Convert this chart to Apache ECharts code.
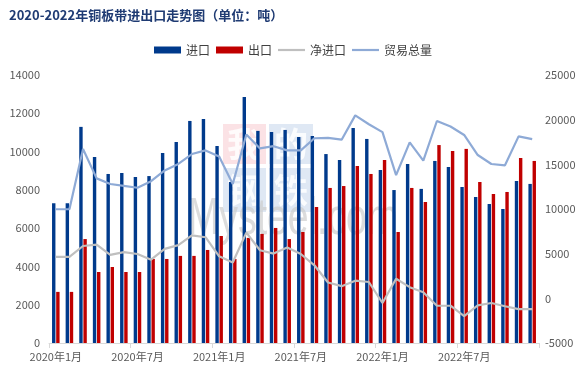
<!DOCTYPE html>
<html>
<head>
<meta charset="utf-8">
<script src="https://cdn.jsdelivr.net/npm/echarts@6/dist/echarts.min.js"></script>
<style>
html, body { margin: 0; padding: 0; background: #fff; }
#main { width: 586px; height: 376px; }
</style>
</head>
<body>
<div id="main"></div>
<script>
var months = [
    '2020年1月', '2020年2月', '2020年3月', '2020年4月', '2020年5月', '2020年6月',
    '2020年7月', '2020年8月', '2020年9月', '2020年10月', '2020年11月', '2020年12月',
    '2021年1月', '2021年2月', '2021年3月', '2021年4月', '2021年5月', '2021年6月',
    '2021年7月', '2021年8月', '2021年9月', '2021年10月', '2021年11月', '2021年12月',
    '2022年1月', '2022年2月', '2022年3月', '2022年4月', '2022年5月', '2022年6月',
    '2022年7月', '2022年8月', '2022年9月', '2022年10月', '2022年11月', '2022年12月'
];

// 进口
var importData = [
    7300, 7300, 11290, 9720, 8830, 8880, 8670, 8720, 9930, 10500, 11600, 11700,
    10290, 8410, 12850, 11080, 11020, 11130, 10760, 10810, 9870, 9560, 11230, 10660,
    9040, 7990, 9350, 8050, 9510, 9200, 8150, 7630, 7260, 7000, 8460, 8310
];
// 出口
var exportData = [
    2670, 2670, 5430, 3710, 3970, 3710, 3710, 4390, 4390, 4550, 4550, 4860,
    5590, 4390, 5490, 5700, 6010, 5430, 5800, 7110, 8100, 8200, 9250, 8830,
    9560, 5800, 8100, 7370, 10340, 10030, 10140, 8410, 7780, 7890, 9670, 9510
];
// 净进口
var netData = [
    4630, 4630, 5860, 6010, 4860, 5170, 4960, 4330, 5540, 5950, 7050, 6840,
    4700, 4020, 7360, 5380, 5010, 5700, 4960, 3700, 1770, 1360, 1980, 1830,
    -520, 2190, 1250, 680, -830, -830, -1990, -780, -520, -890, -1210, -1200
];
// 贸易总量
var totalData = [
    9970, 9970, 16720, 13430, 12800, 12590, 12380, 13110, 14320, 15050, 16150, 16560,
    15880, 12800, 18340, 16780, 17030, 16560, 16560, 17920, 17970, 17760, 20480, 19490,
    18600, 13790, 17450, 15420, 19850, 19230, 18290, 16040, 15040, 14890, 18130, 17820
];

var leftTicks = { min: 0, max: 14000, interval: 2000 };
var rightTicks = { min: -5000, max: 25000, interval: 5000 };

var font = '"Noto Sans CJK SC", "Noto Sans", sans-serif';
var lineIcon = 'path://M0,0 L27,0 L27,2.2 L0,2.2 Z';

function plain(v) {
    return String(v);
}

var chart = echarts.init(document.getElementById('main'));
chart.setOption({
    animation: false,
    title: {
        text: '2020-2022年铜板带进出口走势图（单位：吨）',
        left: 4,
        top: 4,
        textStyle: {
            fontFamily: font,
            fontSize: 13,
            fontWeight: 'bold',
            color: '#1f3b73'
        }
    },
    legend: {
        top: 39,
        left: 'center',
        itemWidth: 27,
        itemHeight: 7,
        itemGap: 6,
        textStyle: { fontFamily: font, fontSize: 12, color: '#404040' },
        data: [
            { name: '进口', icon: 'rect' },
            { name: '出口', icon: 'rect' },
            { name: '净进口', icon: lineIcon },
            { name: '贸易总量', icon: lineIcon }
        ]
    },
    graphic: [
        // watermark
        { type: 'rect', z: -10, shape: { x: 223, y: 124, width: 43, height: 40 }, style: { fill: 'rgba(240,150,160,0.28)' } },
        { type: 'rect', z: -10, shape: { x: 269, y: 124, width: 44, height: 40 }, style: { fill: 'rgba(150,180,220,0.3)' } },
        { type: 'rect', z: -10, shape: { x: 223, y: 168, width: 43, height: 44 }, style: { fill: 'rgba(150,180,220,0.3)' } },
        { type: 'rect', z: -10, shape: { x: 269, y: 168, width: 44, height: 44 }, style: { fill: 'rgba(150,180,220,0.3)' } },
        { type: 'text', z: -9, style: { x: 244, y: 144, text: '我', align: 'center', verticalAlign: 'middle', font: 'bold 34px "Noto Sans CJK SC"', fill: 'rgba(255,255,255,0.85)' } },
        { type: 'text', z: -9, style: { x: 291, y: 144, text: '的', align: 'center', verticalAlign: 'middle', font: 'bold 34px "Noto Sans CJK SC"', fill: 'rgba(255,255,255,0.85)' } },
        { type: 'text', z: -9, style: { x: 244, y: 190, text: '钢', align: 'center', verticalAlign: 'middle', font: 'bold 34px "Noto Sans CJK SC"', fill: 'rgba(255,255,255,0.85)' } },
        { type: 'text', z: -9, style: { x: 291, y: 190, text: '铁', align: 'center', verticalAlign: 'middle', font: 'bold 34px "Noto Sans CJK SC"', fill: 'rgba(255,255,255,0.85)' } },
        { type: 'text', z: -8, x: 188, y: 220, scaleX: 0.72, style: { x: 0, y: 0, text: 'Mysteel.com', align: 'left', verticalAlign: 'middle', font: '52px "Liberation Sans"', fill: 'rgba(205,205,205,0.7)' } }
    ],
    grid: {
        left: 49,
        right: 47,
        top: 75,
        bottom: 33
    },
    xAxis: {
        type: 'category',
        data: months,
        axisLine: { lineStyle: { color: '#d9d9d9', width: 1 } },
        axisTick: { show: true, interval: 5, length: 5, lineStyle: { color: '#d9d9d9' } },
        axisLabel: {
            interval: 5,
            margin: 8,
            fontFamily: font,
            fontSize: 11,
            color: '#595959'
        }
    },
    yAxis: [
        {
            type: 'value',
            min: leftTicks.min,
            max: leftTicks.max,
            interval: leftTicks.interval,
            axisLine: { show: false },
            axisTick: { show: false },
            splitLine: { show: false },
            axisLabel: { margin: 9, fontFamily: font, fontSize: 11, color: '#595959', formatter: plain }
        },
        {
            type: 'value',
            min: rightTicks.min,
            max: rightTicks.max,
            interval: rightTicks.interval,
            axisLine: { show: false },
            axisTick: { show: false },
            splitLine: { show: false },
            axisLabel: { margin: 6, fontFamily: font, fontSize: 11, color: '#595959', formatter: plain }
        }
    ],
    series: [
        {
            name: '进口',
            type: 'bar',
            data: importData,
            barWidth: 3.4,
            barGap: '22%',
            itemStyle: { color: '#003a8c' }
        },
        {
            name: '出口',
            type: 'bar',
            data: exportData,
            barWidth: 3.4,
            itemStyle: { color: '#c00000' }
        },
        {
            name: '净进口',
            type: 'line',
            yAxisIndex: 1,
            data: netData,
            symbol: 'none',
            itemStyle: { color: '#bfbfbf' },
            lineStyle: { color: '#bfbfbf', width: 2.2 }
        },
        {
            name: '贸易总量',
            type: 'line',
            yAxisIndex: 1,
            data: totalData,
            symbol: 'none',
            itemStyle: { color: '#8eaad6' },
            lineStyle: { color: '#8eaad6', width: 2.2 }
        }
    ]
});
</script>
</body>
</html>
